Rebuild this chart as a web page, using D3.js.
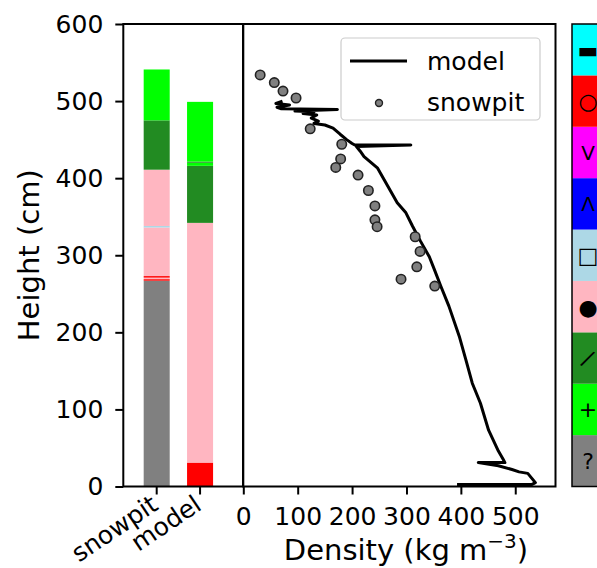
<!DOCTYPE html>
<html>
<head>
<meta charset="utf-8">
<script src="https://cdn.jsdelivr.net/npm/d3@7"></script>
<style>
  body { margin: 0; background: #fff; }
  text { font-family: "DejaVu Sans", sans-serif; }
</style>
</head>
<body>
<svg id="chart" width="597" height="568"></svg>
<script>
// grain type classes, bottom to top of the colour key
const grainSymbols = ["?", "+", "/", "●", "□", "Λ", "V", "○", "▬"];
const grainColors = ["grey", "lime", "forestgreen", "lightpink", "lightblue", "blue", "magenta", "red", "cyan"];

const profileNames = ["snowpit", "model"];
// layers: [bottom (cm), top (cm), grain class index]
const snowpitLayers = [
  [0, 267, 0], [267, 269, 7], [269, 271, 3], [271, 273, 7], [273, 336, 3],
  [336, 338, 4], [338, 411, 3], [411, 475, 2], [475, 541, 1]
];
const modelLayers = [
  [0, 31, 7], [31, 342, 3], [342, 416, 2], [416, 420, 1], [420, 421.5, 2], [421.5, 499, 1]
];

// snowpit density measurements
const pitHeight = [534, 524, 513, 504, 464, 444, 425, 414, 404, 384, 364, 346, 337, 324, 305, 285, 269, 260];
const pitDensity = [31, 57, 73, 97, 123, 181, 179, 170, 211, 230, 242, 242, 246, 316, 325, 319, 290, 352];

// modelled density profile, surface to ground
const modelHeight = [500, 497, 495, 492, 490, 489, 487, 486, 484, 482, 478, 474, 471, 469, 465, 457, 450, 445,
  443, 443, 441, 435, 428, 413, 398, 383, 368, 355, 338, 318, 298, 282, 260, 234, 195, 165, 134, 108, 73, 46,
  35, 31, 31, 27, 22, 19, 17, 5, 2.5, 2.5];
const modelDensity = [72, 60, 85, 62, 70, 173, 95, 130, 110, 135, 125, 138, 130, 150, 165, 178, 190, 200,
  205, 308, 208, 215, 222, 247, 259, 271, 283, 299, 311, 326, 342, 351, 363, 378, 397, 409, 421, 436, 451, 469,
  478, 481, 432, 469, 494, 507, 523, 537, 530, 393];

const heightTicks = [0, 100, 200, 300, 400, 500, 600];
const densityTicks = [0, 100, 200, 300, 400, 500];

const svg = d3.select("#chart");
const yTop = 24, yBottom = 486.5;
const fs = 25;      // tick and legend text
const labelFs = 29; // axis titles

const y = d3.scaleLinear().domain([0, 600]).range([yBottom, yTop]);

// ---- left panel: stratigraphy bars
const lx = d3.scaleLinear().domain([-0.77, 1.99]).range([123.3, 243]);
const barW = lx(0.6) - lx(0);

[snowpitLayers, modelLayers].forEach((layers, i) => {
  svg.append("g").selectAll("rect")
    .data(layers)
    .join("rect")
    .attr("x", lx(i) - barW / 2)
    .attr("width", barW)
    .attr("y", d => y(d[1]))
    .attr("height", d => y(d[0]) - y(d[1]))
    .attr("fill", d => grainColors[d[2]]);
});

svg.append("g")
  .attr("transform", `translate(${lx.range()[0]},0)`)
  .call(d3.axisLeft(y).tickValues(heightTicks).tickSize(8).tickPadding(12).tickSizeOuter(0))
  .call(g => g.select(".domain").remove());

const lxAxis = svg.append("g").attr("transform", `translate(0,${yBottom})`);
profileNames.forEach((name, i) => {
  lxAxis.append("line")
    .attr("x1", lx(i)).attr("x2", lx(i))
    .attr("y1", 0).attr("y2", 8)
    .attr("stroke", "#000").attr("stroke-width", 2);
  lxAxis.append("text")
    .attr("transform", `translate(${lx(i) + 3},22) rotate(-34)`)
    .attr("text-anchor", "end")
    .attr("font-size", fs)
    .text(name);
});

svg.append("rect")
  .attr("x", lx.range()[0]).attr("y", yTop)
  .attr("width", lx.range()[1] - lx.range()[0]).attr("height", yBottom - yTop)
  .attr("fill", "none").attr("stroke", "#000").attr("stroke-width", 2);

svg.append("text")
  .attr("transform", `translate(39,${(yTop + yBottom) / 2}) rotate(-90)`)
  .attr("text-anchor", "middle")
  .attr("font-size", labelFs)
  .text("Height (cm)");

// ---- right panel: density profiles
const x = d3.scaleLinear().domain([0, 574]).range([243.3, 555.5]);

svg.append("g")
  .attr("transform", `translate(0,${yBottom})`)
  .call(d3.axisBottom(x).tickValues(densityTicks).tickSize(8).tickPadding(13).tickSizeOuter(0))
  .call(g => g.select(".domain").remove());

const line = d3.line()
  .x((d, i) => x(modelDensity[i]))
  .y(d => y(d));

svg.append("path")
  .datum(modelHeight)
  .attr("d", line)
  .attr("fill", "none")
  .attr("stroke", "#000")
  .attr("stroke-width", 3)
  .attr("stroke-linejoin", "round");

svg.append("g").selectAll("circle")
  .data(pitHeight)
  .join("circle")
  .attr("cx", (d, i) => x(pitDensity[i]))
  .attr("cy", d => y(d))
  .attr("r", 4.7)
  .attr("fill", "grey")
  .attr("stroke", "#222")
  .attr("stroke-width", 1.6);

svg.append("rect")
  .attr("x", x.range()[0]).attr("y", yTop)
  .attr("width", x.range()[1] - x.range()[0]).attr("height", yBottom - yTop)
  .attr("fill", "none").attr("stroke", "#000").attr("stroke-width", 2);

const dLabel = svg.append("text")
  .attr("x", 406).attr("y", 560)
  .attr("text-anchor", "middle")
  .attr("font-size", labelFs)
  .text("Density (kg m");
dLabel.append("tspan").attr("dy", -12).attr("font-size", 20).text("−3");
dLabel.append("tspan").attr("dy", 12).text(")");

svg.selectAll(".tick text").attr("font-size", fs).attr("font-family", "DejaVu Sans").attr("fill", "#000");
svg.selectAll(".tick line").attr("stroke-width", 2);

// legend
const legend = svg.append("g");
legend.append("rect")
  .attr("x", 341).attr("y", 38).attr("width", 199).attr("height", 82).attr("rx", 4)
  .attr("fill", "#fff").attr("fill-opacity", 0.8)
  .attr("stroke", "#ccc").attr("stroke-width", 1.2);
legend.append("line")
  .attr("x1", 350).attr("x2", 407).attr("y1", 61).attr("y2", 61)
  .attr("stroke", "#000").attr("stroke-width", 3);
legend.append("text").attr("x", 427).attr("y", 70).attr("font-size", fs).text("model");
legend.append("circle")
  .attr("cx", 379).attr("cy", 103).attr("r", 3.5)
  .attr("fill", "grey").attr("stroke", "#222").attr("stroke-width", 1.4);
legend.append("text").attr("x", 427).attr("y", 111).attr("font-size", fs).text("snowpit");

// ---- grain type colour key
const cy = d3.scaleBand().domain(d3.range(grainSymbols.length)).range([yBottom, yTop]);
const cbX = 572, cbW = 34;
const cb = svg.append("g");
cb.selectAll("rect")
  .data(grainColors)
  .join("rect")
  .attr("x", cbX).attr("width", cbW)
  .attr("y", (d, i) => cy(i))
  .attr("height", cy.bandwidth())
  .attr("fill", d => d);
cb.selectAll("text")
  .data(grainSymbols)
  .join("text")
  .attr("transform", (d, i) => {
    const ty = cy(i) + cy.bandwidth() / 2;
    return d === "/" ? `translate(588,${ty}) rotate(28)` : `translate(588,${ty})`;
  })
  .attr("dy", "0.36em")
  .attr("text-anchor", "middle")
  .attr("font-size", d => (d === "V" || d === "Λ") ? 20 : 22)
  .text(d => d);
cb.append("rect")
  .attr("x", cbX).attr("y", yTop).attr("width", cbW).attr("height", yBottom - yTop)
  .attr("fill", "none").attr("stroke", "#000").attr("stroke-width", 1.5);
</script>
</body>
</html>
